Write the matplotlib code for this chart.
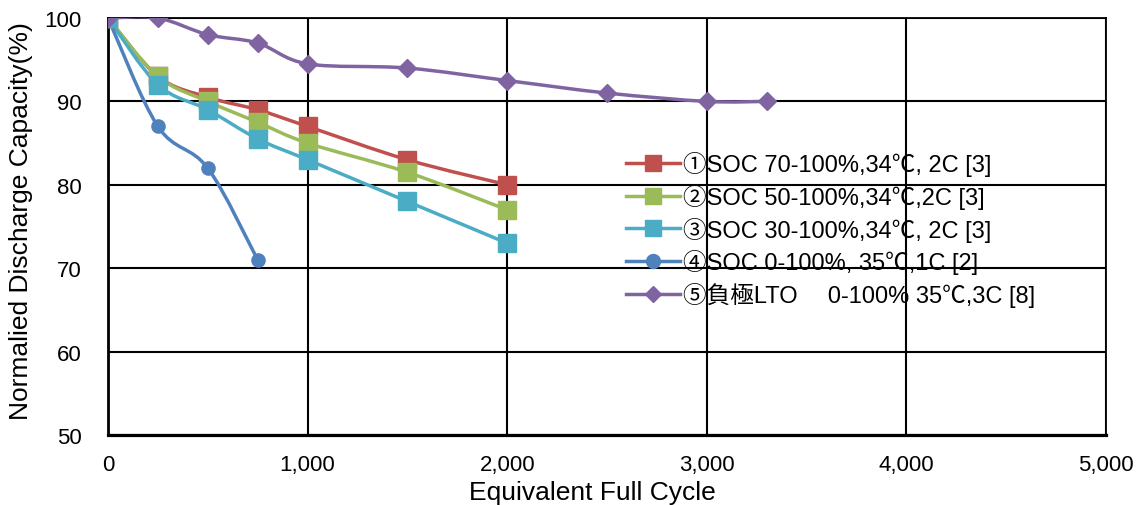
import numpy as np
import matplotlib
matplotlib.use('Agg')
import matplotlib.pyplot as plt
from matplotlib.path import Path
from matplotlib.patches import PathPatch
from matplotlib.lines import Line2D

plt.rcParams['font.family'] = ['Liberation Sans', 'Noto Sans CJK JP', 'DejaVu Sans']

labels = ['①SOC 70-100%,34℃, 2C [3]',
          '②SOC 50-100%,34℃,2C [3]',
          '③SOC 30-100%,34℃, 2C [3]',
          '④SOC 0-100%, 35℃,1C [2]',
          '⑤負極LTO\u3000 0-100% 35℃,3C [8]']

soc70_x = [0, 250, 500, 750, 1000, 1500, 2000]
soc70_y = [100, 93, 90.5, 89, 87, 83, 80]
soc50_x = [0, 250, 500, 750, 1000, 1500, 2000]
soc50_y = [100, 93, 90, 87.5, 85, 81.5, 77]
soc30_x = [0, 250, 500, 750, 1000, 1500, 2000]
soc30_y = [100, 92, 89, 85.5, 83, 78, 73]
soc0_x = [0, 250, 500, 750]
soc0_y = [100, 87, 82, 71]
lto_x = [0, 250, 500, 750, 1000, 1500, 2000, 2500, 3000, 3300]
lto_y = [100, 100, 98, 97, 94.5, 94, 92.5, 91, 90, 90]

# x, y, colour, marker, marker size in plot, marker size in legend
series = [(soc70_x, soc70_y, '#C0504D', 's', 13, 11),
          (soc50_x, soc50_y, '#9BBB59', 's', 13, 11),
          (soc30_x, soc30_y, '#4BACC6', 's', 13, 11),
          (soc0_x, soc0_y, '#4F81BD', 'o', 9.5, 10),
          (lto_x, lto_y, '#8064A2', 'D', 9.5, 8)]


def smooth_path(x, y):
    # cubic bezier through the points (catmull-rom style tangents)
    p = np.column_stack([x, y]).astype(float)
    verts = [p[0]]
    codes = [Path.MOVETO]
    n = len(p)
    for i in range(n - 1):
        p0 = p[i - 1] if i > 0 else p[i]
        p3 = p[i + 2] if i + 2 < n else p[i + 1]
        c1 = p[i] + (p[i + 1] - p0) / 6
        c2 = p[i + 1] - (p3 - p[i]) / 6
        verts += [c1, c2, p[i + 1]]
        codes += [Path.CURVE4] * 3
    return Path(verts, codes)


fig = plt.figure(figsize=(11.39, 5.06), dpi=100)
ax = fig.add_axes([108 / 1139, 70 / 506, 998 / 1139, 417 / 506])

handles = []
for (x, y, c, m, ms, lms), lab in zip(series, labels):
    ax.add_patch(PathPatch(smooth_path(x, y), fill=False, edgecolor=c, lw=2.5,
                           capstyle='round', joinstyle='round', zorder=3))
    ax.plot(x, y, ls='none', marker=m, ms=ms, color=c, zorder=4)
    handles.append(Line2D([], [], color=c, lw=2.5, marker=m, ms=lms))

ax.set_xlim(0, 5000)
ax.set_ylim(50, 100)
ax.set_xticks(range(0, 5001, 1000))
ax.set_xticklabels(['0', '1,000', '2,000', '3,000', '4,000', '5,000'])
ax.set_yticks(range(50, 101, 10))
ax.tick_params(length=0, labelsize=16)
ax.tick_params(axis='x', pad=14)
ax.tick_params(axis='y', pad=19)
ax.grid(True, color='black', lw=1.5, zorder=1)
ax.set_axisbelow(True)
for s in ax.spines.values():
    s.set_linewidth(1.3)
    s.set_zorder(2)
ax.spines['left'].set_linewidth(2)
ax.spines['bottom'].set_linewidth(2.3)

ax.set_xlabel('Equivalent Full Cycle', fontsize=19)
ax.xaxis.set_label_coords(0.485, -0.108)
ax.set_ylabel('Normalied Discharge Capacity(%)', fontsize=19)
ax.yaxis.set_label_coords(-0.075, 0.516)

ax.legend(handles, labels, loc='upper left', bbox_to_anchor=(0.519, 0.681),
          frameon=False, fontsize=17, handlelength=2.3, handletextpad=0.12,
          labelspacing=0.33, borderaxespad=0, borderpad=0)

fig.savefig('out.png', dpi=100)
